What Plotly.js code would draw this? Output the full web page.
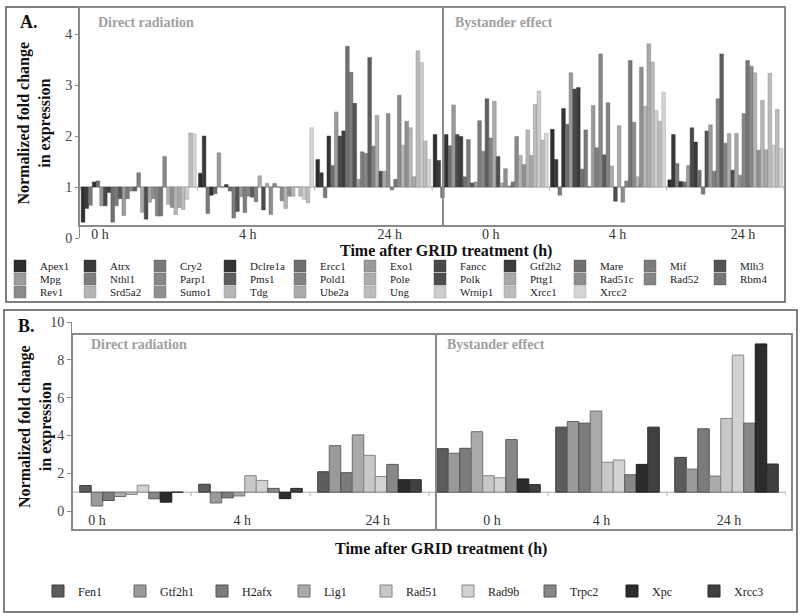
<!DOCTYPE html>
<html><head><meta charset="utf-8">
<script src="https://cdn.plot.ly/plotly-3.0.1.min.js"></script>
<style>
body{margin:0;background:#fff;}
#a{position:absolute;left:0;top:0;width:800px;height:304px;}
#b{position:absolute;left:0;top:304px;width:800px;height:312px;}
</style>
</head><body><div id="a"></div><div id="b"></div>
<script>
// ---------- data ----------
const timeLabels = ['0 h','4 h','24 h','0 h','4 h','24 h'];
const conditions = ['Direct radiation','Bystander effect'];
const xTitle = 'Time after GRID treatment (h)';
const yTitle = 'Normalized fold change<br>in expression';

// Panel A genes (legend order)
const genesA = ['Apex1','Atrx','Cry2','Dclre1a','Ercc1','Exo1','Fancc','Gtf2h2','Mare','Mif','Mlh3',
  'Mpg','Nthl1','Parp1','Pms1','Pold1','Pole','Polk','Pttg1','Rad51c','Rad52','Rbm4',
  'Rev1','Srd5a2','Sumo1','Tdg','Ube2a','Ung','Wrnip1','Xrcc1','Xrcc2'];
const colorsA = ['#2e2e2e','#3a3a3a','#7a7a7a','#343434','#6e6e6e','#9a9a9a','#4a4a4a','#3c3c3c','#707070','#7c7c7c','#555555',
  '#9c9c9c','#7e7e7e','#888888','#5e5e5e','#828282','#acacac','#4e4e4e','#a8a8a8','#8e8e8e','#868686','#767676',
  '#8a8a8a','#b4b4b4','#909090','#b6b6b6','#aaaaaa','#bcbcbc','#cecece','#bdbdbd','#d6d6d6'];
const directA_0h  = [0.31,0.58,0.64,1.10,1.12,0.63,0.63,0.89,0.31,0.63,0.77,0.44,0.77,0.92,0.92,1.28,0.50,0.37,0.70,0.77,0.43,0.43,1.60,0.66,0.60,0.46,0.60,0.56,0.76,2.06,2.04];
const directA_4h  = [1.27,2.00,0.48,0.84,0.87,1.67,1.00,1.05,0.92,0.39,0.52,0.81,0.50,0.82,0.80,0.71,1.22,0.55,1.07,0.46,1.07,1.00,0.73,0.58,0.82,0.82,1.00,0.82,0.76,0.69,2.16];
const directA_24h = [1.54,1.28,0.79,2.00,1.42,2.47,2.00,2.10,3.76,3.25,2.64,1.15,1.69,1.66,3.54,1.80,2.40,1.31,1.31,2.44,0.94,1.15,2.80,1.82,2.29,2.16,1.20,3.67,3.44,1.90,1.54];
const bystA_0h    = [2.03,1.52,0.79,2.03,1.81,2.61,2.03,1.99,1.20,1.93,1.08,1.10,2.30,1.70,2.73,1.96,2.68,1.60,1.08,1.36,1.02,1.10,1.99,1.62,1.44,2.12,1.62,2.62,2.88,1.92,2.05];
const bystA_4h    = [2.13,1.54,0.84,2.54,2.23,3.24,2.92,2.95,1.35,2.12,1.00,2.60,1.77,3.61,1.63,2.65,1.41,0.72,2.20,0.70,1.12,3.48,2.27,1.20,3.35,2.58,3.81,3.45,2.50,2.29,2.86];
const bystA_24h   = [1.14,2.03,1.46,1.11,1.10,1.42,2.16,1.88,1.33,0.86,2.10,2.22,1.31,2.73,3.61,1.86,2.05,1.33,2.05,1.23,2.44,3.48,3.37,3.24,1.72,2.70,1.73,3.23,1.82,2.52,1.76];

// Panel B genes
const genesB = ['Fen1','Gtf2h1','H2afx','Lig1','Rad51','Rad9b','Trpc2','Xpc','Xrcc3'];
const colorsB = ['#5c5c5c','#9a9a9a','#7c7c7c','#aaaaaa','#c8c8c8','#d2d2d2','#878787','#2c2c2c','#404040'];
const directB_0h  = [1.35,0.27,0.56,0.77,0.88,1.37,0.65,0.47,1.00];
const directB_4h  = [1.42,0.43,0.70,0.80,1.87,1.62,1.20,0.66,1.20];
const directB_24h = [2.08,3.46,2.03,4.03,2.95,1.83,2.47,1.66,1.66];
const bystB_0h    = [3.30,3.06,3.32,4.20,1.87,1.76,3.78,1.70,1.40];
const bystB_4h    = [4.44,4.74,4.65,5.29,2.58,2.70,1.92,2.47,4.44];
const bystB_24h   = [2.84,2.22,4.35,1.85,4.90,8.25,4.65,8.84,2.49];

// ---------- helpers ----------
const SERIF = 'Liberation Serif, Times New Roman, serif';
function darker(hex, f){
  const n = parseInt(hex.slice(1),16);
  const r = Math.round(((n>>16)&255)*f), g = Math.round(((n>>8)&255)*f), b = Math.round((n&255)*f);
  return 'rgb('+r+','+g+','+b+')';
}
const groupIdx = timeLabels.map((t,i)=>i);

const W = 800, HA = 304, HB = 312, TOPB = 304;
const ax = x => x / W;
const ayA = y => 1 - y / HA;
const ayB = y => 1 - (y - TOPB) / HB;

// ---------- Panel A ----------
const groupsA = [directA_0h, directA_4h, directA_24h, bystA_0h, bystA_4h, bystA_24h];
const tracesA = genesA.map((g, j) => ({
  type: 'bar', name: g, x: groupIdx,
  y: groupsA.map(arr => +(arr[j] - 1).toFixed(3)), base: 1,
  marker: {color: colorsA[j], line: {color: darker(colorsA[j], 0.7), width: 0.4}},
  legend: j < 11 ? 'legend' : (j < 22 ? 'legend2' : 'legend3'),
  hoverinfo: 'name+text', text: groupsA.map(arr => arr[j].toFixed(2)), textposition: 'none'
}));

const labelShiftA = [-0.33, -0.07, 0.14, 0.0, 0.08, 0.15];
const legendCommon = {orientation: 'h', xanchor: 'left', yanchor: 'middle', entrywidthmode: 'pixels',
  font: {family: SERIF, size: 11, color: '#222'}, bgcolor: 'rgba(0,0,0,0)', borderwidth: 0,
  itemclick: false, itemdoubleclick: false, traceorder: 'normal', tracegroupgap: 0};

const layoutA = {
  width: W, height: HA, margin: {l: 0, r: 0, t: 0, b: 0, autoexpand: false},
  paper_bgcolor: '#fff', plot_bgcolor: 'rgba(0,0,0,0)',
  barmode: 'group', bargap: 0.02, bargroupgap: 0,
  font: {family: SERIF, color: '#333'},
  showlegend: true,
  legend:  Object.assign({}, legendCommon, {x: 0, y: ayA(266), entrywidth: 25}),
  legend2: Object.assign({}, legendCommon, {x: 0, y: ayA(279), entrywidth: 25}),
  legend3: Object.assign({}, legendCommon, {x: 0, y: ayA(292), entrywidth: 25}),
  xaxis: {domain: [ax(80), ax(784)], range: [-0.5, 5.5], fixedrange: true,
    tickmode: 'array', tickvals: groupIdx.map(i => i + labelShiftA[i]), ticktext: timeLabels,
    ticks: '', showline: false, showgrid: false, zeroline: false, ticklabelstandoff: -14,
    tickfont: {family: SERIF, size: 14, color: '#333'},
    title: {text: ''}},
  yaxis: {domain: [ayA(238), ayA(8.5)], range: [0, 4.5], fixedrange: true,
    tickmode: 'linear', tick0: 0, dtick: 1, ticks: 'outside', ticklen: 4, tickcolor: '#888',
    showline: true, linecolor: '#888', linewidth: 1, showgrid: false, zeroline: false,
    tickfont: {family: SERIF, size: 14, color: '#444'},
    title: {text: '<b>' + yTitle + '</b>', font: {family: SERIF, size: 16, color: '#111'}, standoff: 10}},
  shapes: [
    {type: 'rect', xref: 'paper', yref: 'paper', x0: ax(6), x1: ax(785), y0: ayA(302), y1: ayA(7), line: {color: '#555', width: 1.5}},
    {type: 'rect', xref: 'paper', yref: 'paper', x0: ax(79), x1: ax(443), y0: ayA(226), y1: ayA(7), line: {color: '#8a8a8a', width: 2}},
    {type: 'rect', xref: 'paper', yref: 'paper', x0: ax(443), x1: ax(785), y0: ayA(226), y1: ayA(7), line: {color: '#8a8a8a', width: 2}},
    {type: 'line', xref: 'x', yref: 'y', x0: -0.5, x1: 5.5, y0: 1, y1: 1, layer: 'below', line: {color: '#aaa', width: 1}}
  ],
  annotations: [
    {text: '<b>A.</b>', xref: 'paper', yref: 'paper', x: ax(18), y: ayA(22), xanchor: 'left', yanchor: 'middle', showarrow: false, font: {family: SERIF, size: 18, color: '#111'}},
    {text: '<b>' + conditions[0] + '</b>', xref: 'paper', yref: 'paper', x: ax(96), y: ayA(22), xanchor: 'left', yanchor: 'middle', showarrow: false, font: {family: SERIF, size: 14, color: '#a0a0a0'}},
    {text: '<b>' + conditions[1] + '</b>', xref: 'paper', yref: 'paper', x: ax(453), y: ayA(22), xanchor: 'left', yanchor: 'middle', showarrow: false, font: {family: SERIF, size: 14, color: '#a0a0a0'}},
    {text: '<b>' + xTitle + '</b>', xref: 'paper', yref: 'paper', x: ax(446), y: ayA(251), xanchor: 'center', yanchor: 'middle', showarrow: false, font: {family: SERIF, size: 16, color: '#111'}}
  ]
};
for (let k = 0; k <= 6; k++) {
  layoutA.shapes.push({type: 'line', xref: 'x', yref: 'y', x0: k - 0.5, x1: k - 0.5, y0: 1, y1: 0.93, layer: 'below', line: {color: '#aaa', width: 1}});
}

// ---------- Panel B ----------
const groupsB = [directB_0h, directB_4h, directB_24h, bystB_0h, bystB_4h, bystB_24h];
const tracesB = genesB.map((g, j) => ({
  type: 'bar', name: g, x: groupIdx,
  y: groupsB.map(arr => +(arr[j] - 1).toFixed(3)), base: 1,
  marker: {color: colorsB[j], line: {color: darker(colorsB[j], 0.65), width: 1}},
  hoverinfo: 'name+text', text: groupsB.map(arr => arr[j].toFixed(2)), textposition: 'none'
}));
const labelShiftB = [-0.29, -0.07, 0.07, 0.03, -0.05, 0.02];

const layoutB = {
  width: W, height: HB, margin: {l: 0, r: 0, t: 0, b: 0, autoexpand: false},
  paper_bgcolor: '#fff', plot_bgcolor: 'rgba(0,0,0,0)',
  barmode: 'group', bargap: 0.13, bargroupgap: 0,
  font: {family: SERIF, color: '#333'},
  showlegend: true,
  legend: Object.assign({}, legendCommon, {x: ax(38), y: ayB(591), entrywidth: 37, font: {family: SERIF, size: 12, color: '#222'}}),
  xaxis: {domain: [ax(72), ax(786)], range: [-0.5, 5.5], fixedrange: true,
    tickmode: 'array', tickvals: groupIdx.map(i => i + labelShiftB[i]), ticktext: timeLabels,
    ticks: '', showline: false, showgrid: false, zeroline: false, ticklabelstandoff: -20,
    tickfont: {family: SERIF, size: 14, color: '#333'},
    title: {text: ''}},
  yaxis: {domain: [ayB(530), ayB(322)], range: [-1, 10], fixedrange: true,
    tickmode: 'linear', tick0: 0, dtick: 2, ticks: 'outside', ticklen: 4, tickcolor: '#888',
    showline: true, linecolor: '#888', linewidth: 1, showgrid: false, zeroline: false,
    tickfont: {family: SERIF, size: 14, color: '#444'},
    title: {text: ''}},
  shapes: [
    {type: 'rect', xref: 'paper', yref: 'paper', x0: ax(4), x1: ax(797), y0: ayB(612), y1: ayB(310), line: {color: '#555', width: 1.5}},
    {type: 'rect', xref: 'paper', yref: 'paper', x0: ax(72), x1: ax(436), y0: ayB(530), y1: ayB(334), line: {color: '#8a8a8a', width: 2}},
    {type: 'rect', xref: 'paper', yref: 'paper', x0: ax(436), x1: ax(792), y0: ayB(530), y1: ayB(334), line: {color: '#8a8a8a', width: 2}},
    {type: 'line', xref: 'x', yref: 'y', x0: -0.5, x1: 5.5, y0: 1, y1: 1, layer: 'below', line: {color: '#aaa', width: 1}}
  ],
  annotations: [
    {text: '<b>B.</b>', xref: 'paper', yref: 'paper', x: ax(16), y: ayB(326), xanchor: 'left', yanchor: 'middle', showarrow: false, font: {family: SERIF, size: 18, color: '#111'}},
    {text: '<b>' + conditions[0] + '</b>', xref: 'paper', yref: 'paper', x: ax(89), y: ayB(344), xanchor: 'left', yanchor: 'middle', showarrow: false, font: {family: SERIF, size: 14, color: '#a0a0a0'}},
    {text: '<b>' + conditions[1] + '</b>', xref: 'paper', yref: 'paper', x: ax(445), y: ayB(344), xanchor: 'left', yanchor: 'middle', showarrow: false, font: {family: SERIF, size: 14, color: '#a0a0a0'}},
    {text: '<b>' + xTitle + '</b>', xref: 'paper', yref: 'paper', x: ax(441), y: ayB(549), xanchor: 'center', yanchor: 'middle', showarrow: false, font: {family: SERIF, size: 16, color: '#111'}},
    {text: '<b>' + yTitle + '</b>', xref: 'paper', yref: 'paper', x: ax(36), y: ayB(427), xanchor: 'center', yanchor: 'middle', textangle: -90, showarrow: false, font: {family: SERIF, size: 16, color: '#111'}}
  ]
};
for (let k = 0; k <= 6; k++) {
  layoutB.shapes.push({type: 'line', xref: 'x', yref: 'y', x0: k - 0.5, x1: k - 0.5, y0: 1, y1: 0.8, layer: 'below', line: {color: '#aaa', width: 1}});
}

const cfg = {staticPlot: true, displayModeBar: false};
Plotly.newPlot('a', tracesA, layoutA, cfg);
Plotly.newPlot('b', tracesB, layoutB, cfg);
</script>
</body></html>
